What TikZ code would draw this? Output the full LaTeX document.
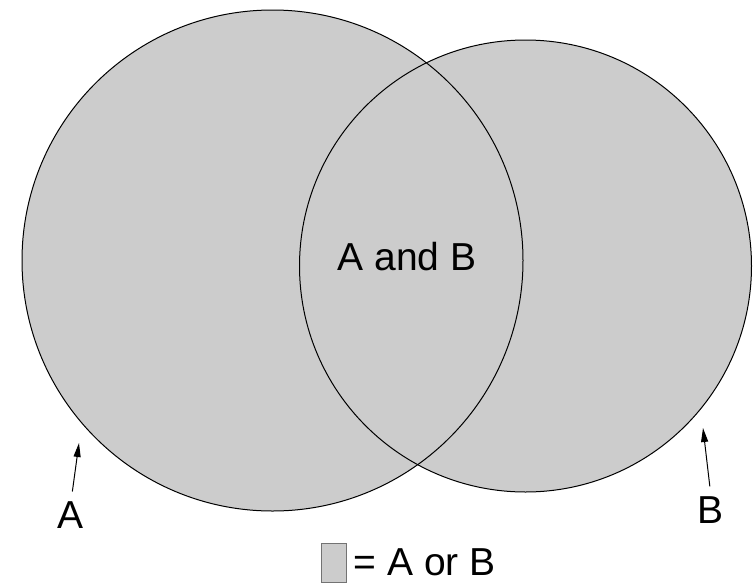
\documentclass[tikz,border=0pt]{standalone}
\usepackage{fontspec}
\setmainfont{Liberation Sans}
\usepackage{xcolor}
\usetikzlibrary{arrows.meta,positioning}
\definecolor{setgray}{RGB}{204,204,204}

\begin{document}
\begin{tikzpicture}[x=1pt,y=-1pt,>={Triangle[length=14pt,width=7pt]},
      setfill/.style={circle,fill=setgray,inner sep=0pt},
      rim/.style={draw=black,line width=1pt},
      lab/.style={font=\fontsize{39}{47}\selectfont,inner sep=0pt},
      pointer/.style={->,line width=1pt,shorten <=10pt}]
    \useasboundingbox (0,0) rectangle (753,587);
    % the two sets
    \node[setfill,minimum size=501pt] (cA) at (272.5,260.5) {};
    \node[setfill,minimum size=452pt] (cB) at (525.5,266) {};
    \draw[rim] (cA.center) circle[radius=250.5];
    \draw[rim] (cB.center) circle[radius=226];
    \node[lab] (both) at (407,257) {A and B};
    % labels with pointers
    \node[lab] (labA) at (71,515) {A};
    \node[lab] (labB) at (711,510) {B};
    \coordinate (tipA) at (79,443);
    \coordinate (tipB) at (703,428);
    \draw[pointer] (labA.north) -- (tipA);
    \draw[pointer] (labB.north) -- (tipB);
    % key
    \node[fill=setgray,draw=black!55,line width=1pt,minimum width=25pt,minimum height=39pt,inner sep=0pt] (key) at (333.5,562.5) {};
    \node[lab,right=7pt of key] (keytxt) {= A or B};
  \end{tikzpicture}
\end{document}
